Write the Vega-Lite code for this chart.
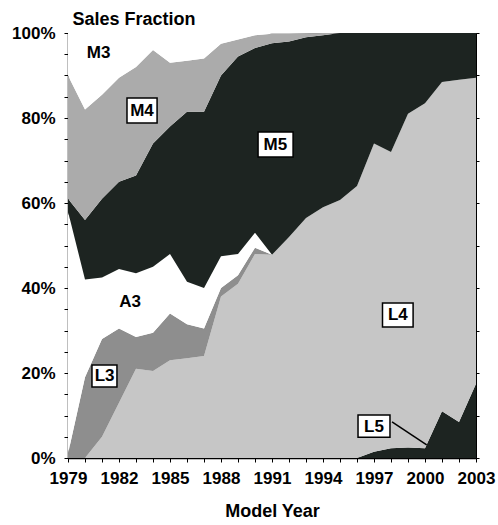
{
  "$schema": "https://vega.github.io/schema/vega-lite/v6.json",
  "width": 408,
  "height": 425,
  "autosize": {"type": "none"},
  "padding": {"left": 68, "top": 33, "right": 22, "bottom": 67},
  "background": "white",
  "config": {
    "view": {"stroke": "black", "strokeWidth": 1},
    "font": "Liberation Sans",
    "axis": {"grid": false, "domainColor": "black", "tickColor": "black", "labelColor": "black", "titleColor": "black", "labelFont": "Liberation Sans", "titleFont": "Liberation Sans", "labelFontWeight": "bold", "titleFontWeight": "bold"}
  },
  "resolve": {"axis": {"x": "independent", "y": "independent"}},
  "layer": [
    {
      "data": {"values": [
        {"year":1979,"cls":"L5","v":0},{"year":1979,"cls":"L4","v":0},{"year":1979,"cls":"L3","v":1},{"year":1979,"cls":"A3","v":57},{"year":1979,"cls":"M5","v":3},{"year":1979,"cls":"M4","v":29},{"year":1979,"cls":"M3","v":10},
        {"year":1980,"cls":"L5","v":0},{"year":1980,"cls":"L4","v":0},{"year":1980,"cls":"L3","v":19},{"year":1980,"cls":"A3","v":23},{"year":1980,"cls":"M5","v":14},{"year":1980,"cls":"M4","v":26},{"year":1980,"cls":"M3","v":18},
        {"year":1981,"cls":"L5","v":0},{"year":1981,"cls":"L4","v":5},{"year":1981,"cls":"L3","v":23},{"year":1981,"cls":"A3","v":14.5},{"year":1981,"cls":"M5","v":18.5},{"year":1981,"cls":"M4","v":24.5},{"year":1981,"cls":"M3","v":14.5},
        {"year":1982,"cls":"L5","v":0},{"year":1982,"cls":"L4","v":13},{"year":1982,"cls":"L3","v":17.5},{"year":1982,"cls":"A3","v":14},{"year":1982,"cls":"M5","v":20.5},{"year":1982,"cls":"M4","v":24.5},{"year":1982,"cls":"M3","v":10.5},
        {"year":1983,"cls":"L5","v":0},{"year":1983,"cls":"L4","v":21},{"year":1983,"cls":"L3","v":7.5},{"year":1983,"cls":"A3","v":15},{"year":1983,"cls":"M5","v":23},{"year":1983,"cls":"M4","v":25.5},{"year":1983,"cls":"M3","v":8},
        {"year":1984,"cls":"L5","v":0},{"year":1984,"cls":"L4","v":20.5},{"year":1984,"cls":"L3","v":9},{"year":1984,"cls":"A3","v":15.5},{"year":1984,"cls":"M5","v":29},{"year":1984,"cls":"M4","v":22},{"year":1984,"cls":"M3","v":4},
        {"year":1985,"cls":"L5","v":0},{"year":1985,"cls":"L4","v":23},{"year":1985,"cls":"L3","v":11},{"year":1985,"cls":"A3","v":14},{"year":1985,"cls":"M5","v":30},{"year":1985,"cls":"M4","v":15},{"year":1985,"cls":"M3","v":7},
        {"year":1986,"cls":"L5","v":0},{"year":1986,"cls":"L4","v":23.5},{"year":1986,"cls":"L3","v":8},{"year":1986,"cls":"A3","v":10},{"year":1986,"cls":"M5","v":40},{"year":1986,"cls":"M4","v":12},{"year":1986,"cls":"M3","v":6.5},
        {"year":1987,"cls":"L5","v":0},{"year":1987,"cls":"L4","v":24},{"year":1987,"cls":"L3","v":6.5},{"year":1987,"cls":"A3","v":9.5},{"year":1987,"cls":"M5","v":41.5},{"year":1987,"cls":"M4","v":12.5},{"year":1987,"cls":"M3","v":6},
        {"year":1988,"cls":"L5","v":0},{"year":1988,"cls":"L4","v":38},{"year":1988,"cls":"L3","v":2},{"year":1988,"cls":"A3","v":7.5},{"year":1988,"cls":"M5","v":42.5},{"year":1988,"cls":"M4","v":7.5},{"year":1988,"cls":"M3","v":2.5},
        {"year":1989,"cls":"L5","v":0},{"year":1989,"cls":"L4","v":41},{"year":1989,"cls":"L3","v":2},{"year":1989,"cls":"A3","v":5},{"year":1989,"cls":"M5","v":46.5},{"year":1989,"cls":"M4","v":4},{"year":1989,"cls":"M3","v":1.5},
        {"year":1990,"cls":"L5","v":0},{"year":1990,"cls":"L4","v":48},{"year":1990,"cls":"L3","v":1.5},{"year":1990,"cls":"A3","v":3.5},{"year":1990,"cls":"M5","v":43.5},{"year":1990,"cls":"M4","v":3},{"year":1990,"cls":"M3","v":0.5},
        {"year":1991,"cls":"L5","v":0},{"year":1991,"cls":"L4","v":47.8},{"year":1991,"cls":"L3","v":0},{"year":1991,"cls":"A3","v":0},{"year":1991,"cls":"M5","v":49.8},{"year":1991,"cls":"M4","v":2.2},{"year":1991,"cls":"M3","v":0.2},
        {"year":1992,"cls":"L5","v":0},{"year":1992,"cls":"L4","v":52},{"year":1992,"cls":"L3","v":0},{"year":1992,"cls":"A3","v":0},{"year":1992,"cls":"M5","v":46},{"year":1992,"cls":"M4","v":1.8},{"year":1992,"cls":"M3","v":0.2},
        {"year":1993,"cls":"L5","v":0},{"year":1993,"cls":"L4","v":56.5},{"year":1993,"cls":"L3","v":0},{"year":1993,"cls":"A3","v":0},{"year":1993,"cls":"M5","v":42.5},{"year":1993,"cls":"M4","v":0.9},{"year":1993,"cls":"M3","v":0.1},
        {"year":1994,"cls":"L5","v":0},{"year":1994,"cls":"L4","v":59},{"year":1994,"cls":"L3","v":0},{"year":1994,"cls":"A3","v":0},{"year":1994,"cls":"M5","v":40.5},{"year":1994,"cls":"M4","v":0.5},{"year":1994,"cls":"M3","v":0},
        {"year":1995,"cls":"L5","v":0},{"year":1995,"cls":"L4","v":60.7},{"year":1995,"cls":"L3","v":0},{"year":1995,"cls":"A3","v":0},{"year":1995,"cls":"M5","v":39.3},{"year":1995,"cls":"M4","v":0},{"year":1995,"cls":"M3","v":0},
        {"year":1996,"cls":"L5","v":0},{"year":1996,"cls":"L4","v":64},{"year":1996,"cls":"L3","v":0},{"year":1996,"cls":"A3","v":0},{"year":1996,"cls":"M5","v":36},{"year":1996,"cls":"M4","v":0},{"year":1996,"cls":"M3","v":0},
        {"year":1997,"cls":"L5","v":1.5},{"year":1997,"cls":"L4","v":72.5},{"year":1997,"cls":"L3","v":0},{"year":1997,"cls":"A3","v":0},{"year":1997,"cls":"M5","v":26},{"year":1997,"cls":"M4","v":0},{"year":1997,"cls":"M3","v":0},
        {"year":1998,"cls":"L5","v":2.3},{"year":1998,"cls":"L4","v":69.7},{"year":1998,"cls":"L3","v":0},{"year":1998,"cls":"A3","v":0},{"year":1998,"cls":"M5","v":28},{"year":1998,"cls":"M4","v":0},{"year":1998,"cls":"M3","v":0},
        {"year":1999,"cls":"L5","v":2.5},{"year":1999,"cls":"L4","v":78.5},{"year":1999,"cls":"L3","v":0},{"year":1999,"cls":"A3","v":0},{"year":1999,"cls":"M5","v":19},{"year":1999,"cls":"M4","v":0},{"year":1999,"cls":"M3","v":0},
        {"year":2000,"cls":"L5","v":2.3},{"year":2000,"cls":"L4","v":81.2},{"year":2000,"cls":"L3","v":0},{"year":2000,"cls":"A3","v":0},{"year":2000,"cls":"M5","v":16.5},{"year":2000,"cls":"M4","v":0},{"year":2000,"cls":"M3","v":0},
        {"year":2001,"cls":"L5","v":11},{"year":2001,"cls":"L4","v":77.5},{"year":2001,"cls":"L3","v":0},{"year":2001,"cls":"A3","v":0},{"year":2001,"cls":"M5","v":11.5},{"year":2001,"cls":"M4","v":0},{"year":2001,"cls":"M3","v":0},
        {"year":2002,"cls":"L5","v":8.5},{"year":2002,"cls":"L4","v":80.5},{"year":2002,"cls":"L3","v":0},{"year":2002,"cls":"A3","v":0},{"year":2002,"cls":"M5","v":11},{"year":2002,"cls":"M4","v":0},{"year":2002,"cls":"M3","v":0},
        {"year":2003,"cls":"L5","v":17.5},{"year":2003,"cls":"L4","v":72},{"year":2003,"cls":"L3","v":0},{"year":2003,"cls":"A3","v":0},{"year":2003,"cls":"M5","v":10.5},{"year":2003,"cls":"M4","v":0},{"year":2003,"cls":"M3","v":0}
      ]},
      "transform": [{"calculate": "indexof(['L5','L4','L3','A3','M5','M4','M3'], datum.cls)", "as": "rank"}],
      "mark": {"type": "area", "interpolate": "linear"},
      "encoding": {
        "x": {"field": "year", "type": "quantitative", "scale": {"domain": [1979, 2003], "nice": false, "zero": false},
          "axis": {"title": "Model Year", "titleFontSize": 18, "titlePadding": 16, "labelFontSize": 17, "values": [1979,1980,1981,1982,1983,1984,1985,1986,1987,1988,1989,1990,1991,1992,1993,1994,1995,1996,1997,1998,1999,2000,2001,2002,2003],
            "labelExpr": "(datum.value - 1979) % 3 === 0 ? '' + datum.value : ''", "labelOverlap": false, "labelFlush": false, "tickSize": 4, "labelPadding": 8, "domainWidth": 1.5}},
        "y": {"field": "v", "type": "quantitative", "stack": "zero", "scale": {"domain": [0, 100], "nice": false},
          "axis": {"title": "Sales Fraction", "titleAngle": 0, "titleAlign": "left", "titleBaseline": "alphabetic", "titleX": 4, "titleY": -9, "titleFontSize": 18,
            "values": [0,5,10,15,20,25,30,35,40,45,50,55,60,65,70,75,80,85,90,95,100], "labelExpr": "datum.value % 20 === 0 ? datum.value + '%' : ''", "labelFontSize": 17, "tickSize": 4, "labelPadding": 9, "domainWidth": 1.5}},
        "color": {"field": "cls", "type": "nominal", "legend": null,
          "scale": {"domain": ["L5","L4","L3","A3","M5","M4","M3"], "range": ["#1d2421","#c6c6c6","#8e8e8e","#ffffff","#1d2421","#ababab","#ffffff"]}},
        "order": {"field": "rank", "type": "quantitative"}
      }
    },
    {
      "data": {"values": [
        {"x1":1982.47,"x2":1984.24,"y1":78.8,"y2":84.7},
        {"x1":1990.18,"x2":1992.24,"y1":70.8,"y2":76.7},
        {"x1":1980.41,"x2":1981.88,"y1":16.7,"y2":21.9},
        {"x1":1997.5,"x2":1999.3,"y1":30.8,"y2":36.5},
        {"x1":1996.06,"x2":1997.94,"y1":4.9,"y2":10.1}
      ]},
      "mark": {"type": "rect", "fill": "white", "stroke": "black", "strokeWidth": 1.5},
      "encoding": {
        "x": {"field": "x1", "type": "quantitative", "axis": null},
        "x2": {"field": "x2"},
        "y": {"field": "y1", "type": "quantitative", "axis": null},
        "y2": {"field": "y2"}
      }
    },
    {
      "data": {"values": [
        {"x1":1998.06,"x2":2000.1,"y1":8.5,"y2":3.1}
      ]},
      "mark": {"type": "rule", "color": "black", "strokeWidth": 1.5},
      "encoding": {
        "x": {"field": "x1", "type": "quantitative", "axis": null},
        "x2": {"field": "x2"},
        "y": {"field": "y1", "type": "quantitative", "axis": null},
        "y2": {"field": "y2"}
      }
    },
    {
      "data": {"values": [
        {"t":"M3","x":1980.8,"y":95.3},
        {"t":"M4","x":1983.35,"y":81.6},
        {"t":"M5","x":1991.2,"y":73.7},
        {"t":"A3","x":1982.65,"y":36.7},
        {"t":"L3","x":1981.15,"y":19.2},
        {"t":"L4","x":1998.4,"y":33.6},
        {"t":"L5","x":1997.0,"y":7.4}
      ]},
      "mark": {"type": "text", "font": "Liberation Sans", "fontWeight": "bold", "fontSize": 17, "align": "center", "baseline": "middle", "color": "black"},
      "encoding": {
        "x": {"field": "x", "type": "quantitative", "axis": null},
        "y": {"field": "y", "type": "quantitative", "axis": null},
        "text": {"field": "t"}
      }
    },
    {
      "data": {"values": [{"year":1979,"v":0},{"year":2003,"v":100}]},
      "mark": {"type": "point", "opacity": 0},
      "encoding": {
        "x": {"field": "year", "type": "quantitative", "axis": null},
        "y": {"field": "v", "type": "quantitative", "axis": {"orient": "right", "title": null, "labels": false, "values": [0,10,20,30,40,50,60,70,80,90,100], "tickSize": 3, "domainWidth": 1}}
      }
    }
  ]
}
